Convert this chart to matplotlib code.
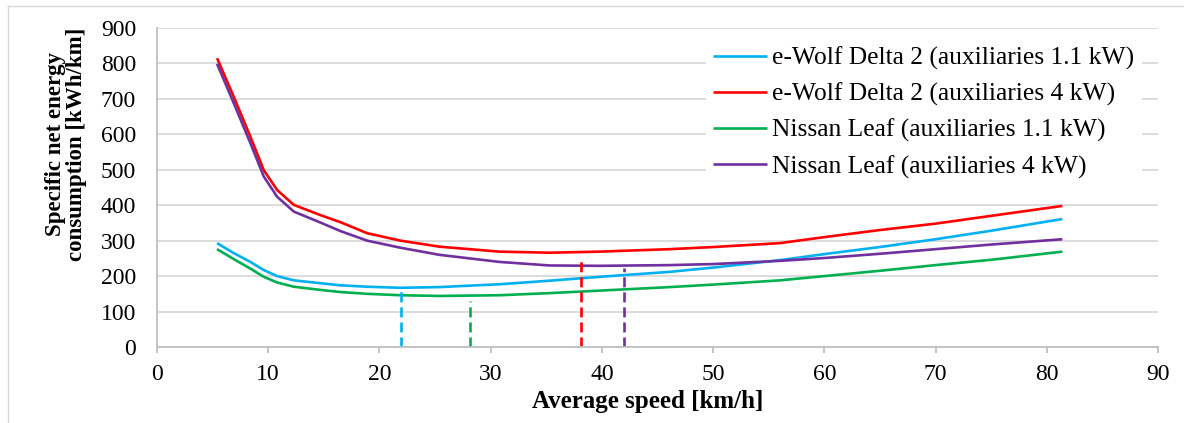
import numpy as np
import matplotlib.pyplot as plt
from matplotlib.lines import Line2D

# values
speed = [5.4, 6.9, 8.4, 9.6, 10.8, 12.3, 14.7, 16.5, 18.9, 21.9, 25.4, 30.8,
         35.3, 39.8, 46.1, 50, 56, 60, 65, 70, 75, 81.4]
wolf_11 = [293, 265, 240, 217, 200, 188, 180, 174, 170, 167, 169, 177,
           187, 198, 212, 224, 245, 262, 282, 304, 328, 361]
wolf_4 = [815, 706, 593, 499, 443, 401, 372, 352, 321, 300, 283, 269,
          266, 269, 276, 282, 293, 310, 330, 348, 370, 398]
leaf_11 = [276, 248, 221, 198, 182, 170, 161, 155, 150, 146, 144, 146,
           152, 159, 169, 176, 188, 200, 215, 231, 246, 269]
leaf_4 = [799, 688, 575, 481, 424, 382, 351, 327, 300, 280, 260, 240,
          230, 229, 231, 234, 243, 251, 263, 276, 289, 304]

labels = ['e-Wolf Delta 2 (auxiliaries 1.1 kW)',
          'e-Wolf Delta 2 (auxiliaries 4 kW)',
          'Nissan Leaf (auxiliaries 1.1 kW)',
          'Nissan Leaf (auxiliaries 4 kW)']
colors = ['#00b0f0', '#ff0000', '#00b050', '#7030a0']

# optimum speed markers (dashed verticals): blue, green, red, purple
opt_speed = [21.9, 28.1, 38.1, 42.0]
opt_top = [161, 130, 255, 222]
opt_colors = ['#00b0f0', '#00b050', '#ff0000', '#7030a0']

plt.rcParams['font.family'] = ['Liberation Serif', 'DejaVu Serif']

fig = plt.figure(figsize=(11.84, 4.23), dpi=100)
ax = fig.add_axes([0.1326, 0.1797, 0.978 - 0.1326, 0.9338 - 0.1797])

for ys, c, lab in zip([wolf_11, wolf_4, leaf_11, leaf_4], colors, labels):
    ax.plot(speed, ys, color=c, lw=1.9, label=lab, solid_capstyle='butt')

for xs, top, c in zip(opt_speed, opt_top, opt_colors):
    ax.plot([xs, xs], [0, top], color=c, lw=1.9, ls=(0, (3.8, 1.9)))

ax.set_xlim(0, 90)
ax.set_ylim(0, 900)
ax.set_xticks(np.arange(0, 91, 10))
ax.set_yticks(np.arange(0, 901, 100))
ax.grid(axis='y', color='#d9d9d9', lw=1.3)
ax.set_axisbelow(True)
for s in ['top', 'right']:
    ax.spines[s].set_visible(False)
for s in ['left', 'bottom']:
    ax.spines[s].set_color('#bfbfbf')
    ax.spines[s].set_linewidth(1.3)
ax.tick_params(axis='x', length=4, width=1.3, color='#bfbfbf', labelsize=17, pad=8)
ax.tick_params(axis='y', length=0, labelsize=17, pad=15)

fig.text(648 / 1184, 1 - 401 / 423, 'Average speed [km/h]', ha='center', va='center',
         fontsize=18, fontweight='bold')
fig.text(66 / 1184, 1 - 144 / 423, 'Specific net energy\nconsumption [kWh/km]', rotation=90,
         ha='center', va='center', fontsize=16.5, fontweight='bold', multialignment='center',
         linespacing=1.0)

leg = ax.legend(loc='upper right', bbox_to_anchor=(1142 / 1184, 1 - 39 / 423),
                bbox_transform=fig.transFigure,
                fontsize=18.4, frameon=True, fancybox=False, edgecolor='none', framealpha=1,
                handlelength=2.1, handletextpad=0.2, labelspacing=0.5, borderaxespad=0,
                borderpad=0.3)

# light chart border (top and left visible)
fig.add_artist(Line2D([8 / 1184, 8 / 1184], [0, 1 - 6 / 423], transform=fig.transFigure,
                      color='#d9d9d9', lw=1))
fig.add_artist(Line2D([8 / 1184, 1], [1 - 6 / 423, 1 - 6 / 423], transform=fig.transFigure,
                      color='#d9d9d9', lw=1))

fig.savefig('out.png', dpi=100)
